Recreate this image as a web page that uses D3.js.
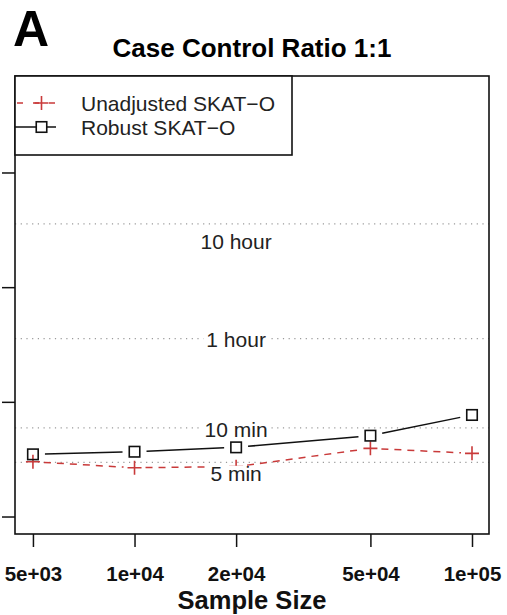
<!DOCTYPE html>
<html>
<head>
<meta charset="utf-8">
<script src="https://cdn.jsdelivr.net/npm/d3@7"></script>
<style>
  html, body { margin: 0; padding: 0; background: #fff; }
  svg { display: block; font-family: "Liberation Sans", Arial, Helvetica, sans-serif; }
</style>
</head>
<body>
<svg id="chart" width="507" height="615"></svg>
<script>
// Sample sizes on the x axis
const sampleSizes = [5000, 10000, 20000, 50000, 100000];
const xTickLabels = ["5e+03", "1e+04", "2e+04", "5e+04", "1e+05"];

// Run time in seconds for each method
const unadjustedTime = [303, 269, 275, 397, 359];
const robustTime = [352, 371, 405, 512, 776];

// Reference lines (seconds) and their labels
const refTimes = [36000, 3600, 600, 300];
const refLabels = ["10 hour", "1 hour", "10 min", "5 min"];

// Log-scale y ticks (seconds)
const yTicks = [100, 1000, 10000, 100000];

const seriesNames = ["Unadjusted SKAT\u2212O", "Robust SKAT\u2212O"];
const red = "#c93a3a";

const svg = d3.select("#chart");
const plot = { left: 15, right: 489, top: 76, bottom: 534 };

const x = d3.scaleLog().domain([4424, 112300]).range([plot.left, plot.right]);
const y = d3.scaleLog().domain([71.1, 701000]).range([plot.bottom, plot.top]);

// Panel letter and title
svg.append("text").attr("x", 13).attr("y", 46)
  .attr("font-size", 50).attr("font-weight", "bold").text("A");
svg.append("text").attr("x", 252).attr("y", 57).attr("text-anchor", "middle")
  .attr("font-size", 26).attr("font-weight", "bold").text("Case Control Ratio 1:1");

// Dotted reference lines
svg.append("g").selectAll("line").data(refTimes).join("line")
  .attr("x1", plot.left).attr("x2", plot.right)
  .attr("y1", d => y(d)).attr("y2", d => y(d))
  .attr("stroke", "#9a9a9a").attr("stroke-width", 1.2)
  .attr("stroke-dasharray", "1.2,4.5");

// Line segments with gaps around points (type "b")
function gapSegments(xs, ys, gap) {
  const segs = [];
  for (let i = 0; i < xs.length - 1; i++) {
    const x1 = x(xs[i]), y1 = y(ys[i]), x2 = x(xs[i + 1]), y2 = y(ys[i + 1]);
    const len = Math.hypot(x2 - x1, y2 - y1);
    const ux = (x2 - x1) / len, uy = (y2 - y1) / len;
    segs.push([x1 + ux * gap, y1 + uy * gap, x2 - ux * gap, y2 - uy * gap]);
  }
  return segs;
}

svg.append("g").selectAll("line").data(gapSegments(sampleSizes, unadjustedTime, 11)).join("line")
  .attr("x1", d => d[0]).attr("y1", d => d[1]).attr("x2", d => d[2]).attr("y2", d => d[3])
  .attr("stroke", red).attr("stroke-width", 1.5).attr("stroke-dasharray", "7,6");

svg.append("g").selectAll("line").data(gapSegments(sampleSizes, robustTime, 12)).join("line")
  .attr("x1", d => d[0]).attr("y1", d => d[1]).attr("x2", d => d[2]).attr("y2", d => d[3])
  .attr("stroke", "#111").attr("stroke-width", 1.5);

// Plus markers
const plusSize = 7;
svg.append("g").selectAll("path").data(sampleSizes.map((s, i) => [s, unadjustedTime[i]])).join("path")
  .attr("d", d => `M${x(d[0]) - plusSize},${y(d[1])}h${2 * plusSize}M${x(d[0])},${y(d[1]) - plusSize}v${2 * plusSize}`)
  .attr("stroke", red).attr("stroke-width", 1.6).attr("fill", "none");

// Square markers
const sq = 10.5;
svg.append("g").selectAll("rect").data(sampleSizes.map((s, i) => [s, robustTime[i]])).join("rect")
  .attr("x", d => x(d[0]) - sq / 2).attr("y", d => y(d[1]) - sq / 2)
  .attr("width", sq).attr("height", sq)
  .attr("fill", "none").attr("stroke", "#111").attr("stroke-width", 1.6);

// Reference labels with a white backing, centred at x = 2e4
const labelShift = [25, 8, 9, 19];
const labelX = x(sampleSizes[2]);
const lab = svg.append("g");
refTimes.forEach((t, i) => {
  const base = y(t) + labelShift[i];
  const txt = lab.append("text").attr("x", labelX).attr("y", base)
    .attr("text-anchor", "middle").attr("font-size", 21).attr("fill", "#222").text(refLabels[i]);
  const w = txt.node().getComputedTextLength();
  lab.insert("rect", "text").attr("x", labelX - w / 2 - 3).attr("y", base - 15.5)
    .attr("width", w + 6).attr("height", 19).attr("fill", "#fff");
});

// Y axis ticks (labels fall outside the panel)
svg.append("g").selectAll("line").data(yTicks).join("line")
  .attr("x1", 2).attr("x2", plot.left).attr("y1", d => y(d)).attr("y2", d => y(d))
  .attr("stroke", "#111").attr("stroke-width", 1.5);

// X axis
const xAxis = svg.append("g").attr("transform", `translate(0,${plot.bottom})`)
  .call(d3.axisBottom(x).tickValues(sampleSizes).tickSize(13).tickFormat((d, i) => xTickLabels[i]));
xAxis.select(".domain").remove();
xAxis.selectAll(".tick line").attr("stroke", "#111").attr("stroke-width", 1.5);
xAxis.selectAll(".tick text").attr("y", 0).attr("dy", 0)
  .attr("transform", "translate(0,47)")
  .attr("font-size", 20.5).attr("font-weight", "bold").attr("fill", "#111")
  .attr("font-family", "'Liberation Sans', Arial, sans-serif");

svg.append("text").attr("x", 252).attr("y", 608.5).attr("text-anchor", "middle")
  .attr("font-size", 25.5).attr("font-weight", "bold").attr("fill", "#111").text("Sample Size");

// Plot frame
svg.append("rect").attr("x", plot.left).attr("y", plot.top)
  .attr("width", plot.right - plot.left).attr("height", plot.bottom - plot.top)
  .attr("fill", "none").attr("stroke", "#111").attr("stroke-width", 1.6);

// Legend
const legend = svg.append("g");
legend.append("rect").attr("x", plot.left).attr("y", plot.top)
  .attr("width", 277).attr("height", 79)
  .attr("fill", "#fff").attr("stroke", "#111").attr("stroke-width", 1.6);
const rowY = [103, 127];
legend.append("line").attr("x1", 17).attr("x2", 57).attr("y1", rowY[0]).attr("y2", rowY[0])
  .attr("stroke", red).attr("stroke-width", 1.5).attr("stroke-dasharray", "6,10");
legend.append("path")
  .attr("d", `M${41.5 - plusSize},${rowY[0]}h${2 * plusSize}M41.5,${rowY[0] - plusSize}v${2 * plusSize}`)
  .attr("stroke", red).attr("stroke-width", 1.6).attr("fill", "none");
legend.append("line").attr("x1", 15).attr("x2", 56).attr("y1", rowY[1]).attr("y2", rowY[1])
  .attr("stroke", "#111").attr("stroke-width", 1.5);
legend.append("rect").attr("x", 41.5 - sq / 2).attr("y", rowY[1] - sq / 2)
  .attr("width", sq).attr("height", sq)
  .attr("fill", "#fff").attr("stroke", "#111").attr("stroke-width", 1.6);
seriesNames.forEach((n, i) => {
  legend.append("text").attr("x", 81).attr("y", rowY[i] + 8)
    .attr("font-size", 21).attr("fill", "#222").text(n);
});
</script>
</body>
</html>
